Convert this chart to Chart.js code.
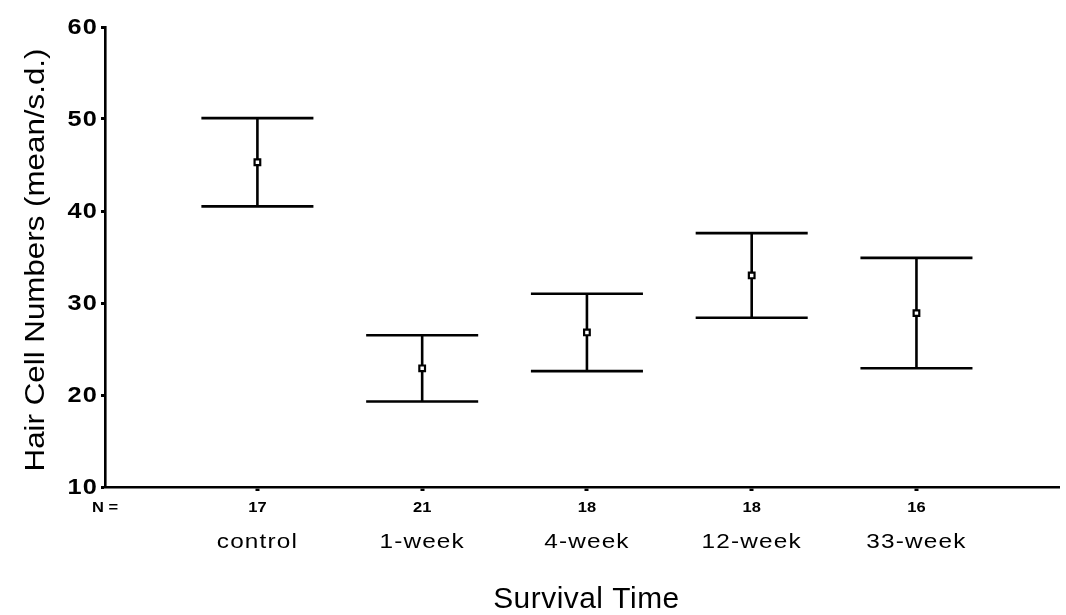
<!DOCTYPE html>
<html>
<head>
<meta charset="utf-8">
<script src="https://cdn.jsdelivr.net/npm/chart.js@4.4.1/dist/chart.umd.min.js"></script>
<style>
  html, body { margin: 0; padding: 0; background: #fff; }
  #wrap { width: 1066px; height: 615px; }
</style>
</head>
<body>
<div id="wrap"><canvas id="chart" width="1066" height="615"></canvas></div>
<script>
// Survival time groups
const categories = ['control', '1-week', '4-week', '12-week', '33-week'];
const sampleSizes = [17, 21, 18, 18, 16];
const means = [45.3, 22.9, 26.8, 33.0, 28.9];
const sds = [4.8, 3.6, 4.2, 4.6, 6.0];
const yTicks = [10, 20, 30, 40, 50, 60];

const FONT = '"Liberation Sans", Arial, Helvetica, sans-serif';

// text is a bit wide in the original, so stretch it horizontally
function stretchedText(ctx, str, x, y, sx) {
  ctx.save();
  ctx.translate(x, y);
  ctx.scale(sx, 1);
  ctx.fillText(str, 0, 0);
  ctx.restore();
}

// error bars + all text labels, placed through the chart scales
const errorBarPlugin = {
  id: 'errorBars',
  beforeDatasetsDraw(chart) {
    const ctx = chart.ctx;
    const x = chart.scales.x, y = chart.scales.y;
    ctx.save();
    ctx.strokeStyle = '#000';
    ctx.lineWidth = 2.6;
    ctx.lineCap = 'butt';
    means.forEach((m, i) => {
      const px = x.getPixelForValue(i + 1);
      const left = x.getPixelForValue(i + 1 - 0.34);
      const right = x.getPixelForValue(i + 1 + 0.34);
      const yu = y.getPixelForValue(m + sds[i]);
      const yl = y.getPixelForValue(m - sds[i]);
      ctx.beginPath();
      ctx.moveTo(px, yu); ctx.lineTo(px, yl);
      ctx.moveTo(left, yu); ctx.lineTo(right, yu);
      ctx.moveTo(left, yl); ctx.lineTo(right, yl);
      ctx.stroke();
    });
    ctx.restore();
  },
  afterDraw(chart) {
    const ctx = chart.ctx;
    const x = chart.scales.x, y = chart.scales.y;
    const area = chart.chartArea;
    ctx.save();
    ctx.fillStyle = '#000';

    // y tick labels
    ctx.font = 'bold 22px ' + FONT;
    ctx.letterSpacing = '1px';
    ctx.textAlign = 'right';
    ctx.textBaseline = 'middle';
    yTicks.forEach(v => stretchedText(ctx, String(v), area.left - 7, y.getPixelForValue(v) + 1, 1.15));

    // N row
    ctx.font = 'bold 15px ' + FONT;
    ctx.letterSpacing = '0px';
    ctx.textAlign = 'center';
    stretchedText(ctx, 'N =', x.getPixelForValue(x.min), area.bottom + 21, 1.1);
    sampleSizes.forEach((n, i) => stretchedText(ctx, String(n), x.getPixelForValue(i + 1), area.bottom + 21, 1.1));

    // category names
    ctx.font = '21px ' + FONT;
    ctx.letterSpacing = '1px';
    categories.forEach((c, i) => stretchedText(ctx, c, x.getPixelForValue(i + 1), area.bottom + 55, 1.16));

    // x title
    ctx.font = '29px ' + FONT;
    ctx.letterSpacing = '0.5px';
    stretchedText(ctx, 'Survival Time', (area.left + area.right) / 2 + 4, area.bottom + 113, 1.03);

    // y title
    ctx.letterSpacing = '0px';
    ctx.font = '27px ' + FONT;
    ctx.translate(37, 260);
    ctx.rotate(-Math.PI / 2);
    stretchedText(ctx, 'Hair Cell Numbers (mean/s.d.)', 0, 0, 1.16);
    ctx.restore();
  }
};

new Chart(document.getElementById('chart'), {
  type: 'scatter',
  data: {
    datasets: [{
      data: means.map((m, i) => ({ x: i + 1, y: m })),
      pointStyle: 'rect',
      pointRadius: 4,
      pointBackgroundColor: '#fff',
      pointBorderColor: '#000',
      pointBorderWidth: 2.2,
      showLine: false
    }]
  },
  options: {
    responsive: false,
    animation: false,
    devicePixelRatio: 1,
    layout: { padding: { left: 101, top: 27, right: 0, bottom: 124 } },
    plugins: { legend: { display: false }, tooltip: { enabled: false } },
    scales: {
      x: {
        type: 'linear',
        min: 0.075,
        max: 5.87,
        afterBuildTicks: axis => { axis.ticks = [1, 2, 3, 4, 5].map(v => ({ value: v })); },
        ticks: { display: false },
        grid: { drawOnChartArea: false, tickLength: 4, tickWidth: 4, tickColor: '#000' },
        border: { color: '#000', width: 2.6 }
      },
      y: {
        min: 10,
        max: 60,
        afterBuildTicks: axis => { axis.ticks = yTicks.map(v => ({ value: v })); },
        ticks: { display: false },
        grid: { drawOnChartArea: false, tickLength: 4, tickWidth: 3, tickColor: '#000' },
        border: { color: '#000', width: 2.6 }
      }
    }
  },
  plugins: [errorBarPlugin]
});
</script>
</body>
</html>
